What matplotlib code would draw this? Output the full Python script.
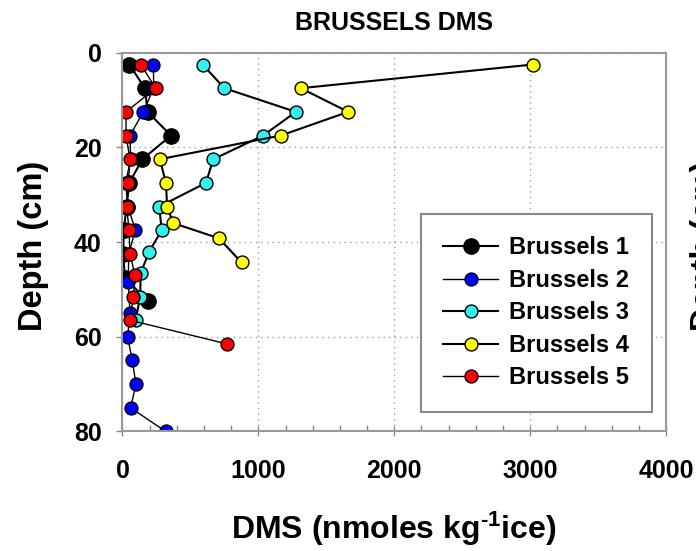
import matplotlib
matplotlib.use('Agg')
import matplotlib.pyplot as plt
from matplotlib.ticker import MultipleLocator

# Style
plt.rcParams.update({
    'font.family':       ['Liberation Sans', 'DejaVu Sans'],
    'font.weight':       'bold',
    'axes.titleweight':  'bold',
    'axes.labelweight':  'bold',
    'mathtext.fontset':  'custom',
    'mathtext.rm':       'Liberation Sans:bold',
    'mathtext.bf':       'Liberation Sans:bold',
    'mathtext.default':  'bf',
})

# Data: DMS (nmoles kg-1 ice) against depth (cm)
depth_b1 = [2.5, 7.5, 12.5, 17.5, 22.5, 27.5, 32.5, 37.5, 42.5, 47.5, 52.5]
dms_b1 = [50, 165, 185, 357, 146, 50, 30, 10, 5, 18, 185]

depth_b2 = [2.5, 7.5, 12.5, 17.5, 22.5, 27.5, 32.5, 37.5, 42.5, 48.5, 55, 60, 65, 70, 75, 80]
dms_b2 = [227, 230, 153, 55, 60, 23, 40, 95, 45, 43, 55, 38, 72, 99, 60, 318]

depth_b3 = [2.5, 7.5, 12.5, 17.5, 22.5, 27.5, 32.5, 37.5, 42, 46.5, 51.5, 56.5]
dms_b3 = [590, 749, 1276, 1035, 668, 614, 271, 288, 197, 134, 130, 97]

depth_b4 = [2.5, 7.5, 12.5, 17.5, 22.5, 27.5, 32.5, 36, 39.2, 44.3]
dms_b4 = [3020, 1312, 1661, 1165, 274, 320, 328, 374, 710, 876]

depth_b5 = [2.5, 7.5, 12.5, 17.5, 22.5, 27.5, 32.5, 37.5, 42.5, 47, 51.5, 56.5, 61.5]
dms_b5 = [134, 244, 26, 26, 55, 43, 31, 48, 55, 92, 80, 55, 768]

series = [
    ('Brussels 1', dms_b1, depth_b1, 'black',   11.0, 1.5),
    ('Brussels 2', dms_b2, depth_b2, '#0000ff', 9.3, 1.0),
    ('Brussels 3', dms_b3, depth_b3, '#33f0f0', 9.3, 1.5),
    ('Brussels 4', dms_b4, depth_b4, '#ffff00', 9.3, 1.5),
    ('Brussels 5', dms_b5, depth_b5, '#ff0000', 9.3, 1.0),
]

fig = plt.figure(figsize=(6.96, 5.51), dpi=100)
ax = fig.add_axes([0.176, 0.2169, 0.781, 0.6875])

for name, x, y, col, ms, lw in series:
    ax.plot(x, y, color='black', lw=lw, marker='o', markersize=ms,
            markerfacecolor=col, markeredgecolor='black', markeredgewidth=1.0,
            label=name)

ax.set_xlim(0, 4000)
ax.set_ylim(80, 0)
ax.xaxis.set_major_locator(MultipleLocator(1000))
ax.xaxis.set_minor_locator(MultipleLocator(200))
ax.yaxis.set_major_locator(MultipleLocator(20))

ax.grid(True, which='major', color='#a0a0a0', linestyle=(0, (1, 3)), linewidth=1.0)
for s in ax.spines.values():
    s.set_color('#999999')
    s.set_linewidth(1.5)

ax.tick_params(axis='x', which='major', direction='inout', length=7, width=1,
               color='#888888', labelsize=18, pad=16)
ax.tick_params(axis='x', which='minor', direction='in', length=4, width=1, color='#888888')
ax.tick_params(axis='y', which='major', direction='out', length=4, width=1,
               color='#888888', labelsize=18, pad=11)

ax.set_title('BRUSSELS DMS', fontsize=18, pad=16)

ax.set_xlabel(r'DMS (nmoles kg$^{\text{-}1}$ice)', fontsize=23, va='baseline')
ax.xaxis.set_label_coords(0.566, 0.022, transform=fig.transFigure)
ax.set_ylabel('Depth (cm)', fontsize=23.5, va='baseline')
ax.yaxis.set_label_coords(0.0603, 0.553, transform=fig.transFigure)

# label of the neighbouring panel, cut off at the right edge as in the source
fig.text(1.026, 0.553, 'Depth (cm)', fontsize=23.5, rotation=90,
         rotation_mode='anchor', ha='center', va='baseline')

leg = ax.legend(loc='upper left', bbox_to_anchor=(0.549, 0.574), borderaxespad=0,
                fontsize=17, borderpad=0.95, labelspacing=0.4, handlelength=2.3,
                handletextpad=0.5, fancybox=False, framealpha=1, edgecolor='#888888')
leg.get_frame().set_linewidth(1.5)

fig.savefig('out.png', dpi=100)
